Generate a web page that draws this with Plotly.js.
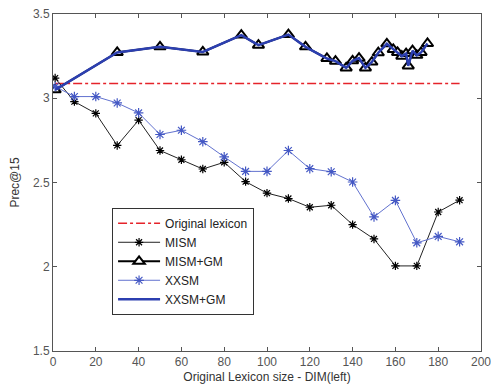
<!DOCTYPE html>
<html>
<head>
<meta charset="utf-8">
<script src="https://cdn.plot.ly/plotly-3.0.1.min.js"></script>
<style>html,body{margin:0;padding:0;background:#fff;}#chart{width:491px;height:392px;}</style>
</head>
<body>
<div id="chart"></div>
<script>
// Data
const origX = [1, 190];
const origY = [3.087, 3.087];

const mismX = [1, 10, 20, 30, 40, 50, 60, 70, 80, 90, 100, 110, 120, 130, 140, 150, 160, 170, 180, 190];
const mismY = [3.12, 2.98, 2.91, 2.72, 2.87, 2.69, 2.635, 2.58, 2.62, 2.505, 2.437, 2.405, 2.353, 2.365, 2.25, 2.165, 2.005, 2.005, 2.325, 2.395];

const gmX = [1, 30, 50, 70, 88, 96, 110, 118, 128, 132, 137, 140, 143, 146, 149, 152, 156, 159, 161, 163, 165, 166, 168, 170, 172, 175];
const gmY = [3.05, 3.272, 3.305, 3.275, 3.375, 3.315, 3.378, 3.305, 3.236, 3.22, 3.18, 3.222, 3.238, 3.18, 3.215, 3.27, 3.323, 3.29, 3.272, 3.25, 3.265, 3.192, 3.282, 3.255, 3.272, 3.325];

const xxsmX = [1, 10, 20, 30, 40, 50, 60, 70, 80, 90, 100, 110, 120, 130, 140, 150, 160, 170, 180, 190];
const xxsmY = [3.07, 3.01, 3.01, 2.972, 2.913, 2.785, 2.81, 2.742, 2.652, 2.566, 2.566, 2.69, 2.582, 2.564, 2.503, 2.296, 2.394, 2.142, 2.18, 2.148];

const xTicks = [0, 20, 40, 60, 80, 100, 120, 140, 160, 180, 200];
const yTicks = [1.5, 2, 2.5, 3, 3.5];
const yTickText = ['1.5', '2', '2.5', '3', '3.5'];

const FONT = 'Liberation Sans, Arial, sans-serif';

const traces = [
  {x: origX, y: origY, name: 'Original lexicon', mode: 'lines',
   line: {color: '#e5232a', width: 1.5, dash: 'dashdot'}},
  {x: mismX, y: mismY, name: 'MISM', mode: 'lines+markers',
   line: {color: '#222222', width: 1},
   marker: {symbol: 'asterisk-open', size: 7, color: '#000000', line: {color: '#000000', width: 1.2}}},
  {x: gmX, y: gmY, name: 'MISM+GM', mode: 'lines+markers',
   line: {color: '#000000', width: 2},
   marker: {symbol: 'triangle-up', size: 10, color: '#ffffff', line: {color: '#000000', width: 2}}},
  {x: xxsmX, y: xxsmY, name: 'XXSM', mode: 'lines+markers',
   line: {color: '#6272cf', width: 1},
   marker: {symbol: 'asterisk-open', size: 8, color: '#4458c4', line: {color: '#4458c4', width: 1.2}}},
  {x: gmX, y: gmY, name: 'XXSM+GM', mode: 'lines',
   line: {color: '#2c3fb0', width: 2.5}}
];

const axisCommon = {
  showline: true, linecolor: '#555555', linewidth: 1, mirror: 'ticks',
  ticks: 'inside', ticklen: 4, tickcolor: '#555555', tickwidth: 1,
  showgrid: false, zeroline: false, ticklabeloverflow: 'allow',
  tickfont: {family: FONT, size: 12, color: '#555555'}
};

const layout = {
  width: 491, height: 392,
  margin: {l: 53, r: 10, t: 14, b: 41},
  paper_bgcolor: '#ffffff', plot_bgcolor: '#ffffff',
  showlegend: true,
  legend: {
    x: 0.138, y: 0.425, xanchor: 'left', yanchor: 'top',
    bgcolor: '#ffffff', bordercolor: '#333333', borderwidth: 1,
    itemwidth: 42,
    font: {family: FONT, size: 12, color: '#222222'},
    tracegroupgap: 0
  },
  xaxis: Object.assign({}, axisCommon, {
    range: [0, 200], tickvals: xTicks, ticktext: xTicks.map(String),
    title: {text: 'Original Lexicon size - DIM(left)', standoff: 4,
            font: {family: FONT, size: 12, color: '#333333'}}
  }),
  yaxis: Object.assign({}, axisCommon, {
    range: [1.5, 3.5], tickvals: yTicks, ticktext: yTickText,
    title: {text: 'Prec@15', standoff: 10,
            font: {family: FONT, size: 12, color: '#333333'}}
  })
};

Plotly.newPlot('chart', traces, layout, {displayModeBar: false, staticPlot: true});
</script>
</body>
</html>
